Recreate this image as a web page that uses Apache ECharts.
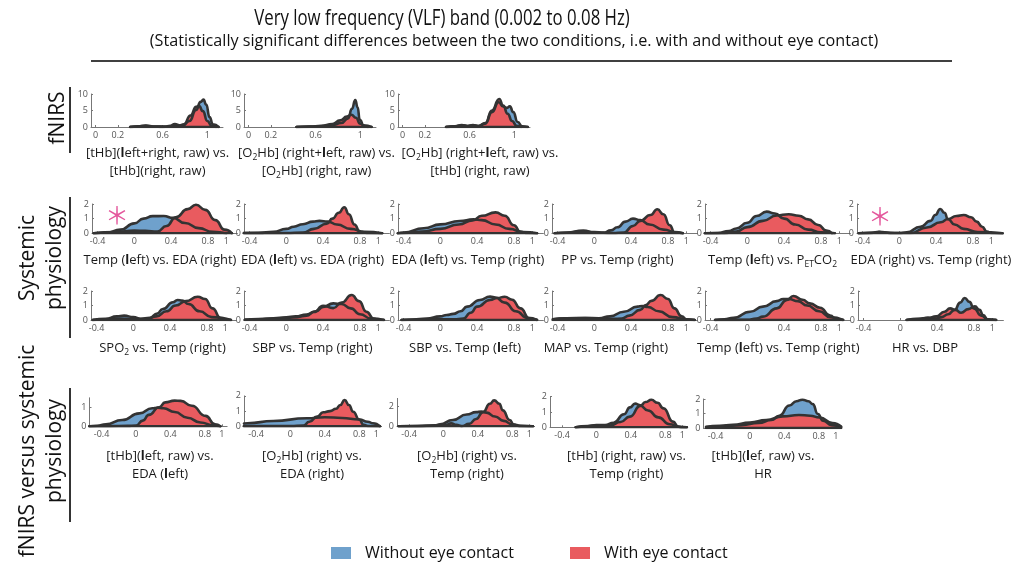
<!DOCTYPE html>
<html>
<head>
<meta charset="utf-8">
<script src="https://cdn.jsdelivr.net/npm/echarts@6/dist/echarts.min.js"></script>
<style>
  html, body { margin: 0; padding: 0; background: #fff; }
  #chart { width: 1013px; height: 565px; }
</style>
</head>
<body>
<div id="chart"></div>
<script>
// ---------- density curves: [correlation r, density] ----------
// fNIRS
const nirs1Without = [[0.31,0],[0.38,0.2],[0.45,0.45],[0.52,0.15],[0.6,0.05],[0.7,0.3],[0.78,0.4],[0.84,1.8],[0.9,5.2],[0.94,7.6],[0.965,8.3],[0.99,6.8],[1.02,3],[1.05,0.8],[1.1,0]];
const nirs1With    = [[0.31,0],[0.38,0.15],[0.45,0.4],[0.52,0.1],[0.62,0.1],[0.67,0.4],[0.71,0.9],[0.75,0.5],[0.79,0.8],[0.85,3.5],[0.9,6.1],[0.925,6.4],[0.96,4.8],[1.0,1.8],[1.04,0.3],[1.08,0]];
const nirs2Without = [[0.43,0],[0.55,0.1],[0.65,0.25],[0.75,0.6],[0.83,1.2],[0.89,2.6],[0.925,5.5],[0.955,8.2],[0.975,6],[0.995,2.2],[1.03,0.5],[1.1,0]];
const nirs2With    = [[0.43,0],[0.55,0.15],[0.65,0.35],[0.75,0.9],[0.82,2],[0.88,3.2],[0.92,3.7],[0.96,2.8],[1.0,1.0],[1.04,0.2],[1.07,0]];
const nirs3Without = [[0.39,0],[0.47,0.2],[0.53,0.55],[0.58,0.3],[0.63,0.5],[0.68,0.3],[0.74,1],[0.8,4.5],[0.86,7.5],[0.9,6.2],[0.935,5.8],[0.96,6.3],[0.99,4.5],[1.03,1.5],[1.07,0.2],[1.12,0]];
const nirs3With    = [[0.39,0],[0.47,0.2],[0.53,0.6],[0.58,0.3],[0.63,0.6],[0.68,0.3],[0.74,1.2],[0.8,5],[0.865,8.5],[0.9,6.5],[0.94,4],[0.98,1.8],[1.02,0.4],[1.06,0]];

// Systemic physiology, first row
const sys1Without = [[-0.44,0],[-0.3,0.05],[-0.15,0.25],[0,0.68],[0.1,1.0],[0.2,1.17],[0.32,1.18],[0.42,1.05],[0.55,0.7],[0.7,0.35],[0.85,0.1],[1.0,0]];
const sys1With    = [[-0.44,0],[-0.2,0.08],[0,0.18],[0.12,0.17],[0.25,0.12],[0.35,0.5],[0.45,1.1],[0.58,1.65],[0.67,1.95],[0.77,1.6],[0.88,0.9],[0.98,0.25],[1.06,0]];
const sys2Without = [[-0.46,0.02],[-0.3,0.03],[-0.14,0.1],[0,0.3],[0.08,0.45],[0.18,0.62],[0.29,0.8],[0.36,0.85],[0.45,0.8],[0.55,0.6],[0.7,0.3],[0.85,0.1],[1.04,0]];
const sys2With    = [[-0.46,0.02],[0,0.02],[0.18,0.05],[0.3,0.3],[0.44,0.65],[0.5,1.0],[0.57,1.4],[0.63,1.78],[0.68,1.3],[0.74,0.6],[0.8,0.1],[0.9,0.02],[1.04,0]];
const sys3Without = [[-0.46,0],[-0.4,0.05],[-0.18,0.34],[0,0.61],[0.21,0.84],[0.36,0.95],[0.45,0.9],[0.6,0.6],[0.75,0.3],[0.9,0.08],[1.05,0]];
const sys3With    = [[-0.46,0],[-0.4,0.02],[-0.2,0.12],[0,0.3],[0.2,0.6],[0.35,0.88],[0.45,1.2],[0.6,1.43],[0.7,1.2],[0.8,0.55],[0.87,0.1],[0.95,0.02],[1.05,0]];
const sys4Without = [[-0.43,0],[-0.3,0.05],[-0.12,0.18],[0,0.08],[0.1,0.05],[0.18,0.2],[0.25,0.41],[0.34,0.8],[0.42,1.0],[0.5,0.9],[0.6,0.6],[0.75,0.25],[0.9,0.05],[0.96,0]];
const sys4With    = [[-0.43,0],[-0.3,0.04],[-0.12,0.14],[0,0.05],[0.2,0.02],[0.32,0.05],[0.42,0.5],[0.5,0.85],[0.61,1.25],[0.685,1.64],[0.75,1.3],[0.82,0.55],[0.87,0.08],[0.96,0]];
const sys5Without = [[-0.46,0],[-0.32,0.02],[-0.2,0.15],[-0.12,0.33],[0,0.72],[0.1,1.18],[0.21,1.48],[0.3,1.35],[0.4,1.0],[0.52,0.6],[0.66,0.25],[0.8,0.07],[0.95,0]];
const sys5With    = [[-0.46,0],[-0.25,0.01],[-0.12,0.12],[0,0.42],[0.17,0.85],[0.32,1.22],[0.45,1.3],[0.56,1.2],[0.66,0.95],[0.77,0.57],[0.86,0.18],[0.92,0]];
const sys6Without = [[-0.44,0],[-0.3,0.04],[-0.22,0.1],[-0.1,0.03],[0,0.02],[0.08,0.06],[0.23,0.45],[0.34,0.85],[0.39,1.25],[0.445,1.66],[0.49,1.4],[0.53,0.96],[0.6,0.6],[0.7,0.3],[0.85,0.08],[1.12,0]];
const sys6With    = [[-0.44,0],[-0.3,0.03],[-0.22,0.08],[-0.1,0.02],[0.12,0.02],[0.3,0.4],[0.45,0.75],[0.53,0.98],[0.62,1.18],[0.7,1.25],[0.78,1.1],[0.84,0.8],[0.9,0.45],[0.95,0.12],[1.0,0.02],[1.12,0]];

// Systemic physiology, second row
const sys7Without  = [[-0.44,0],[-0.3,0.08],[-0.18,0.25],[-0.1,0.3],[0,0.2],[0.08,0.08],[0.18,0.15],[0.26,0.45],[0.32,0.76],[0.43,1.22],[0.48,1.38],[0.53,1.35],[0.6,1.1],[0.72,0.6],[0.85,0.2],[1.06,0]];
const sys7With     = [[-0.44,0],[-0.3,0.05],[-0.15,0.1],[0,0.08],[0.14,0.06],[0.25,0.25],[0.36,0.6],[0.46,1.0],[0.57,1.3],[0.7,1.6],[0.78,1.45],[0.86,0.8],[0.95,0.12],[1.0,0.02],[1.06,0]];
const sys8Without  = [[-0.45,0.02],[-0.3,0.06],[-0.14,0.12],[0,0.18],[0.1,0.25],[0.22,0.38],[0.32,0.6],[0.4,0.9],[0.51,1.15],[0.6,1.1],[0.7,0.8],[0.8,0.4],[0.92,0.1],[1.06,0]];
const sys8With     = [[-0.45,0.02],[-0.3,0.05],[-0.14,0.1],[0,0.15],[0.12,0.2],[0.22,0.3],[0.3,0.55],[0.4,0.98],[0.51,0.82],[0.6,1.2],[0.71,1.72],[0.79,1.3],[0.87,0.57],[0.95,0.1],[1.0,0.02],[1.06,0]];
const sys9Without  = [[-0.42,0],[-0.3,0.03],[-0.15,0.1],[0,0.25],[0.07,0.35],[0.14,0.42],[0.22,0.6],[0.29,0.92],[0.43,1.38],[0.54,1.61],[0.6,1.55],[0.7,1.2],[0.82,0.6],[0.95,0.15],[1.05,0]];
const sys9With     = [[-0.42,0],[-0.2,0.03],[0,0.05],[0.15,0.04],[0.25,0.1],[0.33,0.5],[0.4,0.92],[0.54,1.38],[0.62,1.52],[0.7,1.6],[0.78,1.4],[0.87,0.8],[0.97,0.1],[1.05,0]];
const sys10Without = [[-0.45,0.05],[-0.3,0.12],[-0.1,0.14],[0.05,0.12],[0.17,0.25],[0.32,0.57],[0.47,0.92],[0.52,0.97],[0.58,0.9],[0.7,0.6],[0.85,0.2],[1.0,0.03],[1.09,0]];
const sys10With    = [[-0.45,0.05],[-0.3,0.11],[-0.1,0.13],[0.05,0.1],[0.2,0.08],[0.3,0.1],[0.38,0.3],[0.5,0.7],[0.56,1.03],[0.62,1.32],[0.72,1.72],[0.8,1.45],[0.87,0.8],[0.95,0.25],[1.0,0.05],[1.09,0]];
const sys11Without = [[-0.35,0],[-0.25,0.05],[-0.15,0.15],[0.03,0.57],[0.17,0.92],[0.32,1.3],[0.39,1.45],[0.45,1.45],[0.55,1.3],[0.65,1.0],[0.78,0.6],[0.9,0.2],[1.04,0]];
const sys11With    = [[-0.35,0],[-0.2,0],[0,0.02],[0.1,0.1],[0.17,0.23],[0.32,0.8],[0.43,1.38],[0.5,1.66],[0.6,1.4],[0.68,1.15],[0.79,0.85],[0.9,0.3],[0.97,0.05],[1.04,0]];
const sys12Without = [[0.07,0],[0.2,0.08],[0.3,0.15],[0.38,0.1],[0.45,0.2],[0.52,0.4],[0.59,0.7],[0.65,1.2],[0.7,1.52],[0.75,1.25],[0.8,0.8],[0.88,0.3],[0.95,0.05],[1.04,0]];
const sys12With    = [[0.07,0],[0.2,0.06],[0.3,0.15],[0.39,0.25],[0.48,0.57],[0.54,0.8],[0.6,0.7],[0.66,0.5],[0.74,0.75],[0.81,0.95],[0.86,0.7],[0.9,0.35],[0.95,0.02],[1.04,0]];

// fNIRS versus systemic physiology
const mix1Without = [[-0.54,0],[-0.45,0.03],[-0.35,0.1],[-0.16,0.33],[0.04,0.68],[0.19,0.95],[0.25,0.98],[0.32,0.95],[0.45,0.75],[0.6,0.45],[0.75,0.2],[0.9,0.05],[0.98,0]];
const mix1With    = [[-0.54,0],[-0.3,0.01],[-0.1,0.02],[0,0.04],[0.08,0.3],[0.15,0.6],[0.27,1.0],[0.34,1.26],[0.45,1.35],[0.52,1.34],[0.65,1.08],[0.81,0.55],[0.92,0.1],[0.98,0]];
const mix2Without = [[-0.54,0.18],[-0.5,0.2],[-0.2,0.35],[0.19,0.53],[0.4,0.6],[0.6,0.55],[0.8,0.45],[0.9,0.3],[0.96,0.2],[1.04,0]];
const mix2With    = [[-0.54,0.02],[0,0.02],[0.15,0.05],[0.22,0.3],[0.31,0.64],[0.38,0.92],[0.46,1.0],[0.53,1.15],[0.58,1.4],[0.63,1.73],[0.68,1.4],[0.73,0.96],[0.8,0.45],[0.85,0.1],[0.9,0.02],[1.04,0]];
const mix3Without = [[-0.52,0],[-0.3,0.03],[-0.1,0.1],[-0.04,0.2],[0.11,0.65],[0.27,1.2],[0.38,1.45],[0.44,1.5],[0.5,1.4],[0.6,1.0],[0.7,0.55],[0.8,0.2],[0.9,0.05],[1.04,0]];
const mix3With    = [[-0.52,0],[-0.3,0.02],[-0.05,0.05],[0.03,0.15],[0.09,0.3],[0.15,0.15],[0.21,0.02],[0.3,0.25],[0.38,0.75],[0.46,1.45],[0.54,2.3],[0.59,2.65],[0.65,2.3],[0.69,1.63],[0.77,0.65],[0.82,0.15],[0.88,0.02],[1.04,0]];
const mix4Without = [[-0.24,0],[-0.1,0.08],[0,0.15],[0.1,0.15],[0.2,0.3],[0.32,0.85],[0.39,1.3],[0.45,1.55],[0.5,1.45],[0.6,1.1],[0.72,0.65],[0.85,0.2],[0.97,0.03],[1.05,0]];
const mix4With    = [[-0.24,0],[-0.1,0.06],[0,0.13],[0.1,0.12],[0.16,0.12],[0.28,0.35],[0.39,0.7],[0.51,1.4],[0.57,1.65],[0.64,1.8],[0.71,1.6],[0.78,1.24],[0.89,0.37],[0.95,0.05],[1.0,0],[1.05,0]];
const mix5Without = [[-0.51,0.05],[-0.3,0.12],[-0.1,0.2],[0.1,0.35],[0.25,0.55],[0.34,0.85],[0.46,1.55],[0.54,1.85],[0.61,1.95],[0.68,1.85],[0.73,1.65],[0.79,0.97],[0.85,0.5],[0.95,0.2],[1.06,0.05]];
const mix5With    = [[-0.51,0.08],[-0.35,0.15],[-0.2,0.22],[0,0.38],[0.19,0.55],[0.38,0.8],[0.57,0.9],[0.7,0.85],[0.81,0.72],[0.96,0.35],[1.06,0.1]];

// ---------- tick labels ----------
const xTicksNirs = [0, 0.2, 0.6, 1];
const xTicksCorr = [-0.4, 0, 0.4, 0.8, 1];
const yTicksNirs = [0, 5, 10];
const yTicks012  = [0, 1, 2];
const yTicks01   = [0, 1];
const yTicks02   = [0, 2];

// ---------- texts ----------
const figureTitle = 'Very low frequency (VLF) band (0.002 to 0.08 Hz)';
const figureSubtitle = '(Statistically significant differences between the two conditions, i.e. with and without eye contact)';
const groupNames = ['fNIRS', 'Systemic\nphysiology', 'fNIRS versus systemic\nphysiology'];
const seriesNames = ['Without eye contact', 'With eye contact'];
// {b|..} bold glyph, {s|..} subscript
const nirsTitles = [
  '[tHb]({b|l}eft+right, raw) vs.\n[tHb](right, raw)',
  '[O{s|2}Hb] (right+{b|l}eft, raw) vs.\n[O{s|2}Hb] (right, raw)',
  '[O{s|2}Hb] (right+{b|l}eft, raw) vs.\n[tHb] (right, raw)'
];
const sysTitles = [
  'Temp ({b|l}eft) vs. EDA (right)', 'EDA ({b|l}eft) vs. EDA (right)', 'EDA ({b|l}eft) vs. Temp (right)',
  'PP vs. Temp (right)', 'Temp ({b|l}eft) vs. P{s|ET}CO{s|2}', 'EDA (right) vs. Temp (right)',
  'SPO{s|2} vs. Temp (right)', 'SBP vs. Temp (right)', 'SBP vs. Temp ({b|l}eft)',
  'MAP vs. Temp (right)', 'Temp ({b|l}eft) vs. Temp (right)', 'HR vs. DBP'
];
const mixTitles = [
  '[tHb]({b|l}eft, raw) vs.\nEDA ({b|l}eft)', '[O{s|2}Hb] (right) vs.\nEDA (right)', '[O{s|2}Hb] (right) vs.\nTemp (right)',
  '[tHb] (right, raw) vs.\nTemp (right)', '[tHb]({b|l}ef, raw) vs.\nHR'
];

// ---------- layout ----------
const FONT = 'Open Sans';
const C_WITHOUT = '#6fa1cc';
const C_WITH = '#e95b5f';
const OUTLINE = '#333';

// box = [left, top, width, height], x = [min, max], title anchor = [cx, top]
const panels = [
  { w: nirs1Without, r: nirs1With, box: [91, 94, 132, 33],   x: [-0.04, 1.14], ymax: 10, xt: xTicksNirs, yt: yTicksNirs, title: nirsTitles[0], at: [157.5, 145] },
  { w: nirs2Without, r: nirs2With, box: [244, 94, 132, 33],  x: [-0.04, 1.14], ymax: 10, xt: xTicksNirs, yt: yTicksNirs, title: nirsTitles[1], at: [316.5, 145] },
  { w: nirs3Without, r: nirs3With, box: [398, 94, 132, 33],  x: [-0.04, 1.14], ymax: 10, xt: xTicksNirs, yt: yTicksNirs, title: nirsTitles[2], at: [480, 145] },

  { w: sys1Without, r: sys1With, box: [92, 204, 145.4, 29.3],  x: [-0.46, 1.12], ymax: 2, xt: xTicksCorr, yt: yTicks012, title: sysTitles[0], at: [160, 252] },
  { w: sys2Without, r: sys2With, box: [244, 204, 145.4, 29.3], x: [-0.46, 1.12], ymax: 2, xt: xTicksCorr, yt: yTicks012, title: sysTitles[1], at: [312.5, 252] },
  { w: sys3Without, r: sys3With, box: [398, 204, 145.4, 29.3], x: [-0.46, 1.12], ymax: 2, xt: xTicksCorr, yt: yTicks012, title: sysTitles[2], at: [468, 252] },
  { w: sys4Without, r: sys4With, box: [552, 204, 145.4, 29.3], x: [-0.46, 1.12], ymax: 2, xt: xTicksCorr, yt: yTicks012, title: sysTitles[3], at: [617.5, 252] },
  { w: sys5Without, r: sys5With, box: [705, 204, 145.4, 29.3], x: [-0.46, 1.12], ymax: 2, xt: xTicksCorr, yt: yTicks012, title: sysTitles[4], at: [772.5, 252] },
  { w: sys6Without, r: sys6With, box: [857, 204, 145.4, 29.3], x: [-0.46, 1.12], ymax: 2, xt: xTicksCorr, yt: yTicks012, title: sysTitles[5], at: [931, 252] },

  { w: sys7Without,  r: sys7With,  box: [91, 291, 145.4, 29],  x: [-0.46, 1.12], ymax: 2, xt: xTicksCorr, yt: yTicks012, title: sysTitles[6],  at: [162.5, 339.5] },
  { w: sys8Without,  r: sys8With,  box: [244, 291, 145.4, 29], x: [-0.46, 1.12], ymax: 2, xt: xTicksCorr, yt: yTicks012, title: sysTitles[7],  at: [312.5, 339.5] },
  { w: sys9Without,  r: sys9With,  box: [398, 291, 145.4, 29], x: [-0.46, 1.12], ymax: 2, xt: xTicksCorr, yt: yTicks012, title: sysTitles[8],  at: [465, 339.5] },
  { w: sys10Without, r: sys10With, box: [552, 291, 145.4, 29], x: [-0.46, 1.12], ymax: 2, xt: xTicksCorr, yt: yTicks012, title: sysTitles[9],  at: [605.8, 339.5] },
  { w: sys11Without, r: sys11With, box: [705, 291, 145.4, 29], x: [-0.46, 1.12], ymax: 2, xt: xTicksCorr, yt: yTicks012, title: sysTitles[10], at: [778.3, 339.5] },
  { w: sys12Without, r: sys12With, box: [858, 291, 145.4, 29], x: [-0.46, 1.12], ymax: 2, xt: xTicksCorr, yt: yTicks012, title: sysTitles[11], at: [925, 339.5] },

  { w: mix1Without, r: mix1With, box: [89.5, 397.8, 137.6, 28.5], x: [-0.54, 1.06], ymax: 1.5,  xt: xTicksCorr, yt: yTicks01,  title: mixTitles[0], at: [160, 448] },
  { w: mix2Without, r: mix2With, box: [244, 395.9, 137.6, 30.4],  x: [-0.54, 1.06], ymax: 2,    xt: xTicksCorr, yt: yTicks012, title: mixTitles[1], at: [312, 448] },
  { w: mix3Without, r: mix3With, box: [397, 398.4, 137.6, 27.9],  x: [-0.54, 1.06], ymax: 2.85, xt: xTicksCorr, yt: yTicks02,  title: mixTitles[2], at: [467, 448] },
  { w: mix4Without, r: mix4With, box: [550, 396.7, 137.6, 30.6],  x: [-0.54, 1.06], ymax: 2,    xt: xTicksCorr, yt: yTicks012, title: mixTitles[3], at: [626.5, 448] },
  { w: mix5Without, r: mix5With, box: [703.5, 399, 137.6, 29],    x: [-0.54, 1.06], ymax: 2,    xt: xTicksCorr, yt: yTicks012, title: mixTitles[4], at: [763, 448] }
];

const grid = [], xAxis = [], yAxis = [], series = [], graphic = [];
const tickLabel = { fontFamily: FONT, fontSize: 9, color: '#555' };
const richTitle = {
  b: { fontFamily: FONT, fontSize: 13, fontWeight: 'bold', fill: '#1a1a1a', lineHeight: 17.5 },
  s: { fontFamily: FONT, fontSize: 8.5, fill: '#1a1a1a', lineHeight: 17.5, verticalAlign: 'bottom' }
};

panels.forEach((p, i) => {
  const [left, top, width, height] = p.box;
  grid.push({ left, top, width, height, containLabel: false });
  xAxis.push({
    type: 'value', gridIndex: i, min: p.x[0], max: p.x[1],
    splitLine: { show: false },
    axisLine: { show: true, onZero: false, lineStyle: { color: '#777', width: 1 } },
    axisTick: { show: true, inside: true, length: 2, customValues: p.xt, lineStyle: { color: '#777' } },
    axisLabel: Object.assign({ margin: 4, customValues: p.xt }, tickLabel)
  });
  yAxis.push({
    type: 'value', gridIndex: i, min: 0, max: p.ymax,
    splitLine: { show: false },
    axisLine: { show: true, onZero: false, lineStyle: { color: '#777', width: 1 } },
    axisTick: { show: true, inside: true, length: 2, customValues: p.yt, lineStyle: { color: '#777' } },
    axisLabel: Object.assign({ margin: 3, customValues: p.yt }, tickLabel)
  });
  const common = {
    type: 'line', xAxisIndex: i, yAxisIndex: i, smooth: 0.55, smoothMonotone: 'x',
    symbol: 'none', showSymbol: false, silent: true,
    lineStyle: { color: OUTLINE, width: 2.6, join: 'round', cap: 'round' }
  };
  series.push(Object.assign({}, common, {
    name: seriesNames[0], data: p.w,
    itemStyle: { color: C_WITHOUT }, areaStyle: { color: C_WITHOUT, opacity: 1 }
  }));
  series.push(Object.assign({}, common, {
    name: seriesNames[1], data: p.r,
    itemStyle: { color: C_WITH }, areaStyle: { color: C_WITH, opacity: 1 }
  }));
  // outline along the base of both densities
  const xs = p.w.concat(p.r).map(d => d[0]);
  series.push(Object.assign({}, common, {
    data: [[Math.min.apply(null, xs), 0], [Math.max.apply(null, xs), 0]],
    smooth: false, itemStyle: { color: OUTLINE }
  }));
  graphic.push({
    type: 'text', x: p.at[0], y: p.at[1], silent: true,
    style: {
      text: p.title, fontFamily: FONT, fontSize: 13, fill: '#1a1a1a',
      align: 'center', verticalAlign: 'top', lineHeight: 17.5, rich: richTitle
    }
  });
});

// heading
graphic.push({
  type: 'text', x: 442, y: 19, scaleX: 0.8, silent: true,
  style: { text: figureTitle, fontFamily: FONT, fontSize: 21, fill: '#111', align: 'center', verticalAlign: 'middle' }
});
graphic.push({
  type: 'text', x: 514, y: 41, silent: true,
  style: { text: figureSubtitle, fontFamily: FONT, fontSize: 16.2, fill: '#111', align: 'center', verticalAlign: 'middle' }
});
graphic.push({ type: 'line', silent: true, shape: { x1: 91, y1: 61, x2: 952, y2: 61 }, style: { stroke: '#000', lineWidth: 1.6 } });

// row group labels with their brackets
const groupAnchors = [[58, 118, 87, 153], [42, 258, 197, 338], [42, 451, 388, 522]];
groupNames.forEach((name, k) => {
  const [cx, cy, y1, y2] = groupAnchors[k];
  graphic.push({
    type: 'text', x: cx, y: cy, rotation: Math.PI / 2, silent: true,
    style: { text: name, fontFamily: FONT, fontSize: 21, fill: '#111', align: 'center', verticalAlign: 'middle', lineHeight: 27 }
  });
  graphic.push({ type: 'line', silent: true, shape: { x1: 70, y1, x2: 70, y2 }, style: { stroke: '#000', lineWidth: 1.6 } });
});

// significance marks
[[117, 215], [880, 216]].forEach(([x, y]) => {
  graphic.push({
    type: 'text', x, y, silent: true,
    style: { text: '＊', fontFamily: 'Noto Sans CJK SC', fontSize: 24, fill: '#e4579c', align: 'center', verticalAlign: 'middle' }
  });
});

const legendCommon = {
  icon: 'rect', itemWidth: 20, itemHeight: 12, padding: 0, selectedMode: false,
  itemStyle: { borderWidth: 0 },
  textStyle: { fontFamily: FONT, fontSize: 16, color: '#111', padding: [0, 0, 0, 9] }
};

const chart = echarts.init(document.getElementById('chart'), null, { renderer: 'canvas' });
chart.setOption({
  animation: false,
  backgroundColor: '#fff',
  grid, xAxis, yAxis, series, graphic,
  legend: [
    Object.assign({ left: 331, top: 545, data: [seriesNames[0]] }, legendCommon),
    Object.assign({ left: 570, top: 545, data: [seriesNames[1]] }, legendCommon)
  ]
});
</script>
</body>
</html>
